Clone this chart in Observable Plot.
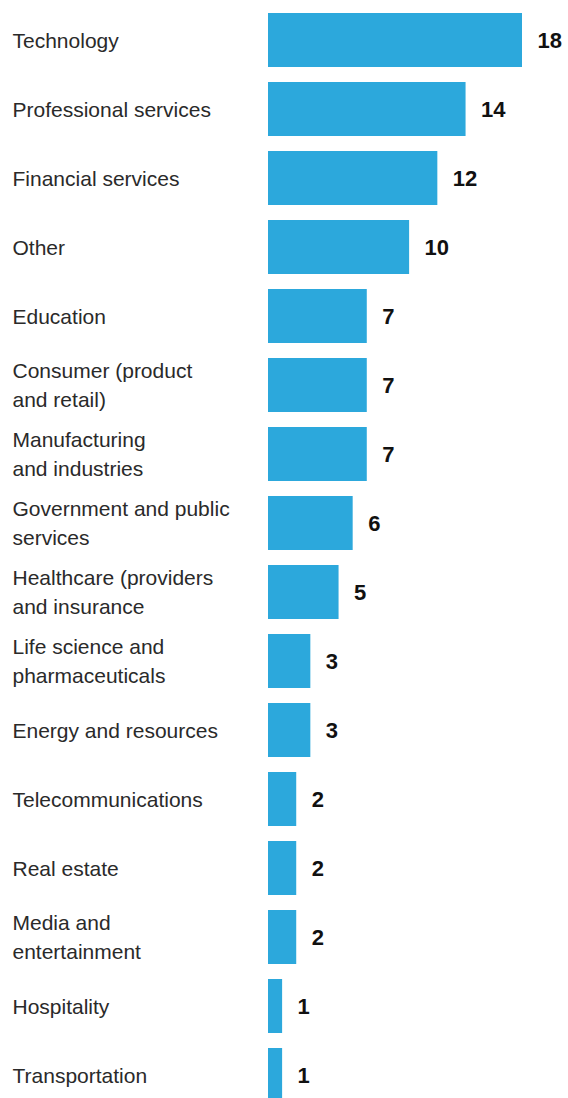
<!DOCTYPE html>
<html>
<head>
<meta charset="utf-8">
<script src="https://cdn.jsdelivr.net/npm/d3@7"></script>
<script src="https://cdn.jsdelivr.net/npm/@observablehq/plot@0.6"></script>
<style>
  html, body { margin: 0; padding: 0; background: #fff; }
  #chart svg { display: block; }
</style>
</head>
<body>
<div id="chart"></div>
<script>
const categories = [
  "Technology",
  "Professional services",
  "Financial services",
  "Other",
  "Education",
  "Consumer (product\nand retail)",
  "Manufacturing\nand industries",
  "Government and public\nservices",
  "Healthcare (providers\nand insurance",
  "Life science and\npharmaceuticals",
  "Energy and resources",
  "Telecommunications",
  "Real estate",
  "Media and\nentertainment",
  "Hospitality",
  "Transportation"
];
const values = [18, 14, 12, 10, 7, 7, 7, 6, 5, 3, 3, 2, 2, 2, 1, 1];

const data = categories.map((c, i) => ({category: c, value: values[i]}));

const chart = Plot.plot({
  width: 568,
  height: 1098,
  marginLeft: 268,
  marginRight: 46,
  marginTop: 0,
  marginBottom: 0,
  style: {fontFamily: "'Liberation Sans', Arial, sans-serif", background: "#fff"},
  x: {domain: [0, 18], axis: null},
  y: {domain: categories, range: [4, 1110], paddingInner: 0.22, paddingOuter: 0.11, label: null},
  marks: [
    Plot.barX(data, {x: "value", y: "category", fill: "#2ca8dc"}),
    Plot.axisY({
      tickSize: 0,
      tickPadding: 0,
      textAnchor: "start",
      dx: -256,
      dy: -2,
      fontSize: 21,
      lineHeight: 1.36,
      fill: "#2a2a2a",
      label: null
    }),
    Plot.text(data, {
      x: "value",
      y: "category",
      text: d => String(d.value),
      textAnchor: "start",
      dx: 15,
      fontSize: 22,
      fontWeight: "bold",
      fill: "#111"
    })
  ]
});
document.getElementById("chart").appendChild(chart);
</script>
</body>
</html>
